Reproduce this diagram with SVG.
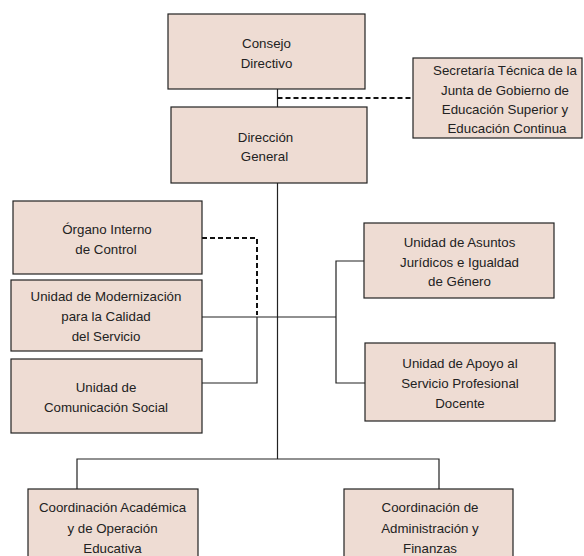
<svg xmlns="http://www.w3.org/2000/svg" width="584" height="556" viewBox="0 0 584 556">
<style>
.box{fill:#eedcd3;stroke:#222;stroke-width:1.2}
.t{font-family:"Liberation Sans",Arial,sans-serif;font-size:13.3px;fill:#222;text-anchor:middle}
.ln{fill:none;stroke:#222;stroke-width:1.2}
.dash{fill:none;stroke:#111;stroke-width:2;stroke-dasharray:5 3}
</style>
<rect width="584" height="556" fill="#fff"/>
<g id="connectors">
<path class="ln" d="M277.5 89V459"/>
<path class="dash" d="M277.5 98H413"/>
<path class="ln" d="M202 317H336"/>
<path class="ln" d="M364 261H336V383H365"/>
<path class="ln" d="M202 383H257V317"/>
<path class="dash" d="M202 238H257V315"/>
<path class="ln" d="M77 489V459H439V489"/>
</g>
<g id="consejo"><rect class="box" x="168" y="14" width="197" height="75"/>
<text class="t" x="266.5" y="48">Consejo</text><text class="t" x="266.5" y="68">Directivo</text></g>
<g id="secretaria"><rect class="box" x="413" y="58" width="169" height="80"/>
<text class="t" x="505" y="75">Secretaría Técnica de la</text><text class="t" x="505" y="94.5">Junta de Gobierno de</text><text class="t" x="505" y="114">Educación Superior y</text><text class="t" x="507" y="133">Educación Continua</text></g>
<g id="direccion"><rect class="box" x="171" y="107" width="196" height="76"/>
<text class="t" x="265.5" y="141.5">Dirección</text><text class="t" x="264.5" y="160.5">General</text></g>
<g id="organo"><rect class="box" x="13" y="201" width="189" height="73"/>
<text class="t" x="107" y="234">Órgano Interno</text><text class="t" x="106" y="254">de Control</text></g>
<g id="modernizacion"><rect class="box" x="11" y="280" width="191" height="71"/>
<text class="t" x="106" y="301">Unidad de Modernización</text><text class="t" x="106" y="321">para la Calidad</text><text class="t" x="106" y="341">del Servicio</text></g>
<g id="comunicacion"><rect class="box" x="11" y="359" width="191" height="74"/>
<text class="t" x="106" y="391.5">Unidad de</text><text class="t" x="106" y="411.5">Comunicación Social</text></g>
<g id="juridicos"><rect class="box" x="364" y="223" width="190" height="75"/>
<text class="t" x="459.5" y="246.5">Unidad de Asuntos</text><text class="t" x="459.5" y="266.5">Jurídicos e Igualdad</text><text class="t" x="459.5" y="286">de Género</text></g>
<g id="apoyo"><rect class="box" x="365" y="343" width="190" height="78"/>
<text class="t" x="460" y="368">Unidad de Apoyo al</text><text class="t" x="460" y="388">Servicio Profesional</text><text class="t" x="460" y="407.5">Docente</text></g>
<g id="academica"><rect class="box" x="28" y="489" width="170" height="80"/>
<text class="t" x="112.5" y="512">Coordinación Académica</text><text class="t" x="112.5" y="532.5">y de Operación</text><text class="t" x="112.5" y="552.5">Educativa</text></g>
<g id="administracion"><rect class="box" x="344" y="489" width="169" height="80"/>
<text class="t" x="430" y="512">Coordinación de</text><text class="t" x="430" y="532.5">Administración y</text><text class="t" x="430" y="552.5">Finanzas</text></g>
</svg>
